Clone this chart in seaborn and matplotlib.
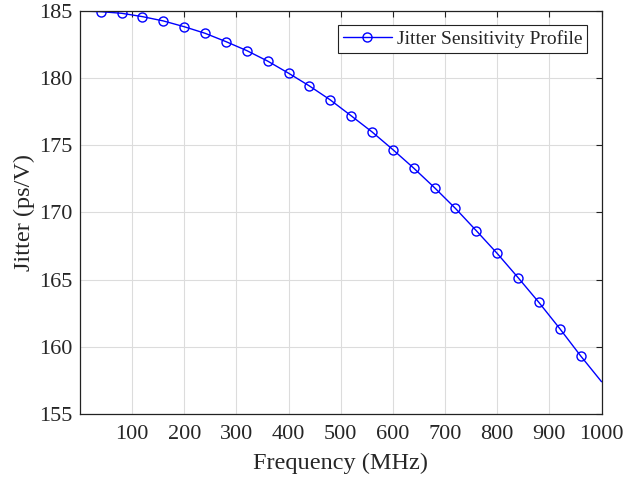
import matplotlib
matplotlib.use("Agg")
import matplotlib.pyplot as plt
import seaborn as sns
import pandas as pd

# frequency (MHz) and jitter sensitivity (ps/V)
freq = [0, 40, 80, 120, 160, 200, 240, 280, 320, 360, 400, 440, 480, 520,
        560, 600, 640, 680, 720, 760, 800, 840, 880, 920, 960, 1000]
jitter = [185.0, 184.95, 184.83, 184.58, 184.26, 183.83, 183.34, 182.72, 182.05,
          181.27, 180.37, 179.42, 178.38, 177.2, 176.0, 174.68, 173.3, 171.84,
          170.3, 168.64, 166.95, 165.15, 163.3, 161.35, 159.32, 157.4]
xticks = [100, 200, 300, 400, 500, 600, 700, 800, 900, 1000]
yticks = [155, 160, 165, 170, 175, 180, 185]

df = pd.DataFrame({"freq": freq, "jitter": jitter})

sns.set_style("white")
plt.rcParams["font.family"] = ["Liberation Serif", "DejaVu Serif"]

fig = plt.figure(figsize=(6.24, 4.78), dpi=100)
ax = fig.add_axes([0.128, 0.134, 0.836, 0.843])

sns.lineplot(x="freq", y="jitter", data=df, ax=ax, color="#0000ff", linewidth=1.0,
             marker="o", markersize=6.5, markerfacecolor="none", markeredgecolor="#0000ff",
             markeredgewidth=1.0, markevery=list(range(1, len(freq) - 1)),
             label="Jitter Sensitivity Profile")

ax.set_xlim(0, 1000)
ax.set_ylim(155, 185)
ax.set_xticks(xticks)
ax.set_yticks(yticks)
ax.grid(True, color="#dcdcdc", linewidth=0.8)
ax.set_axisbelow(True)
ax.tick_params(direction="in", top=True, right=True, labelsize=16, length=4,
               width=0.8, color="#222222", labelcolor="#262626")
ax.tick_params(axis="x", pad=8)
ax.tick_params(axis="y", pad=5)
for s in ax.spines.values():
    s.set_color("#222222")
    s.set_linewidth(0.9)

ax.set_xlabel("Frequency (MHz)", fontsize=17.5, labelpad=6, color="#262626")
ax.set_ylabel("Jitter (ps/V)", fontsize=17.5, labelpad=3, color="#262626")

leg = ax.legend(loc="upper right", fontsize=14, frameon=True, fancybox=False,
                edgecolor="#222222", framealpha=1, borderpad=0.25, borderaxespad=0,
                handlelength=2.5, handletextpad=0.25, bbox_to_anchor=(0.972, 0.965))
leg.get_frame().set_linewidth(0.8)

fig.savefig("out.png", dpi=100)
